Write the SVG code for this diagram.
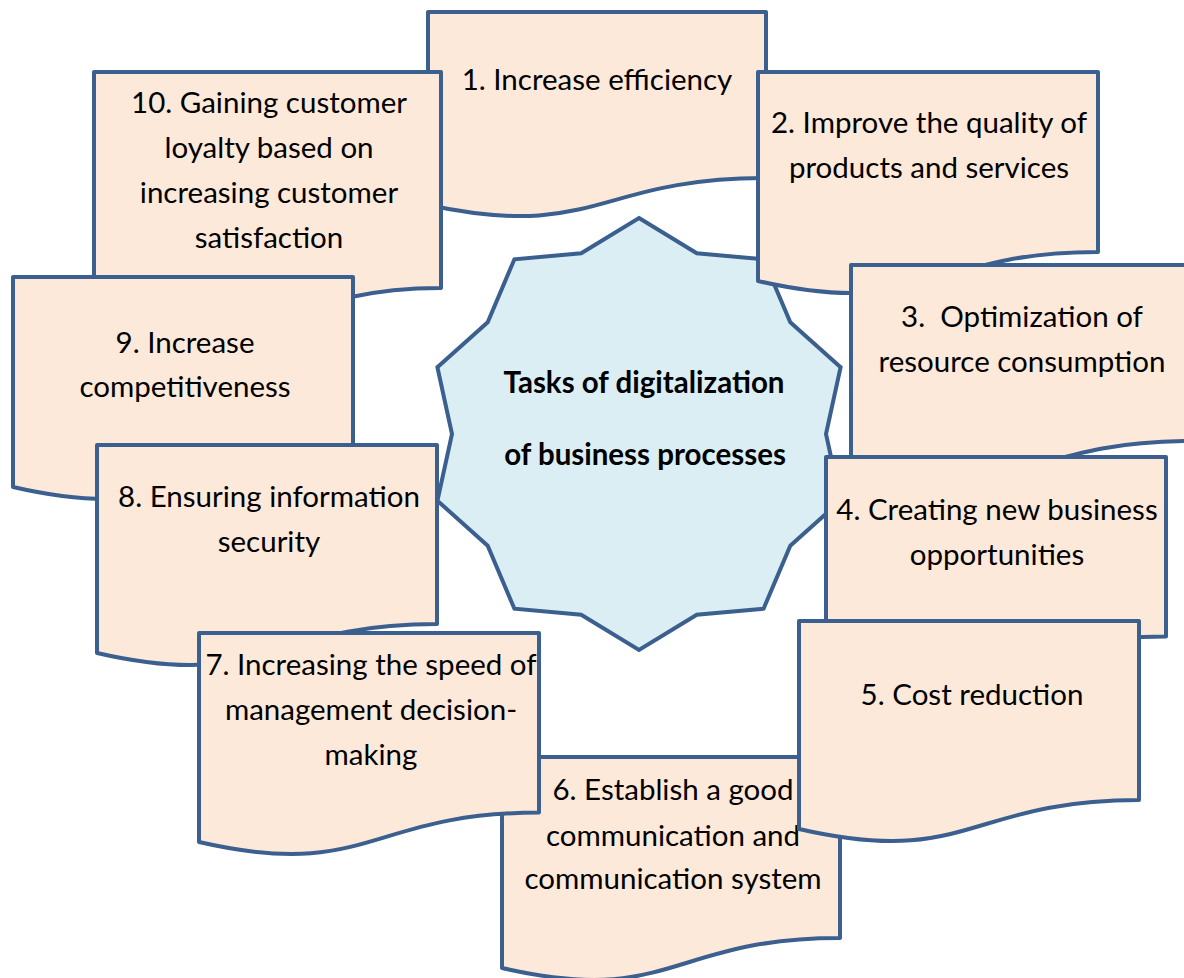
<svg xmlns="http://www.w3.org/2000/svg" width="1184" height="978" viewBox="0 0 1184 978">
  <style>
    .doc { fill: #FDE9DA; stroke: #3B5F8E; stroke-width: 4; stroke-linejoin: round; }
    .star { fill: #DAEEF3; stroke: #3B5F8E; stroke-width: 4; stroke-linejoin: miter; }
    text { font-family: Lato, "Open Sans", sans-serif; font-size: 29.5px; fill: #000; text-anchor: middle; }
    .title { font-weight: bold; }
  </style>
  <rect width="1184" height="978" fill="#FFFFFF"/>

  <!-- central ten-point star -->
  <g id="center">
    <polygon class="star" points="639,218 696.8,253.3 763.6,259.3 790.3,322.3 840.6,367.3 826,434 840.6,500.7 790.3,545.7 763.6,608.7 696.8,614.7 639,650 581.2,614.7 514.4,608.7 487.7,545.7 437.4,500.7 452,434 437.4,367.3 487.7,322.3 514.4,259.3 581.2,253.3"/>
    <text class="title" x="644" y="393">Tasks of digitalization</text>
    <text class="title" x="645" y="465">of business processes</text>
  </g>

  <!-- no connectors in this figure -->
  <g id="connectors"></g>

  <!-- document-shaped task boxes, stacked in overlap order -->
  <g id="task1">
    <path class="doc" d="M428,12 H766 V178 C597,178 597,241 428,205 Z"/>
    <text x="597" y="90">1. Increase efficiency</text>
  </g>
  <g id="task10">
    <path class="doc" d="M94,72 H441 V288 C267.5,288 267.5,370 94,323 Z"/>
    <text x="269" y="113">10. Gaining customer</text>
    <text x="269" y="158">loyalty based on</text>
    <text x="269" y="203">increasing customer</text>
    <text x="269" y="248">satisfaction</text>
  </g>
  <g id="task9">
    <path class="doc" d="M13,277 H353 V457.5 C183,457.5 183,526 13,487 Z"/>
    <text x="185" y="353">9. Increase</text>
    <text x="185" y="397">competitiveness</text>
  </g>
  <g id="task8">
    <path class="doc" d="M97,445 H437 V624 C267,624 267,692 97,653 Z"/>
    <text x="269" y="507">8. Ensuring information</text>
    <text x="269" y="552">security</text>
  </g>
  <g id="task2">
    <path class="doc" d="M758,72 H1098 V252 C928,252 928,320 758,281 Z"/>
    <text x="929" y="133">2. Improve the quality of</text>
    <text x="929" y="178">products and services</text>
  </g>
  <g id="task3">
    <path class="doc" d="M851,265 H1192 V441 C1021.5,441 1021.5,507 851,469.5 Z"/>
    <text x="1022" y="327" xml:space="preserve">3.  Optimization of</text>
    <text x="1022" y="372">resource consumption</text>
  </g>
  <g id="task4">
    <path class="doc" d="M826,457 H1166 V636.6 C996,636.6 996,705 826,666 Z"/>
    <text x="997" y="520">4. Creating new business</text>
    <text x="997" y="565">opportunities</text>
  </g>
  <g id="task6">
    <path class="doc" d="M502,757 H840 V938 C671,938 671,1007 502,968 Z"/>
    <text x="673" y="800">6. Establish a good</text>
    <text x="673" y="846">communication and</text>
    <text x="673" y="889">communication system</text>
  </g>
  <g id="task5">
    <path class="doc" d="M799,621 H1139 V800 C969,800 969,868 799,829 Z"/>
    <text x="972" y="705">5. Cost reduction</text>
  </g>
  <g id="task7">
    <path class="doc" d="M199,633 H539 V812.6 C369,812.6 369,881 199,842 Z"/>
    <text x="371" y="675">7. Increasing the speed of</text>
    <text x="371" y="720">management decision-</text>
    <text x="371" y="765">making</text>
  </g>
</svg>
